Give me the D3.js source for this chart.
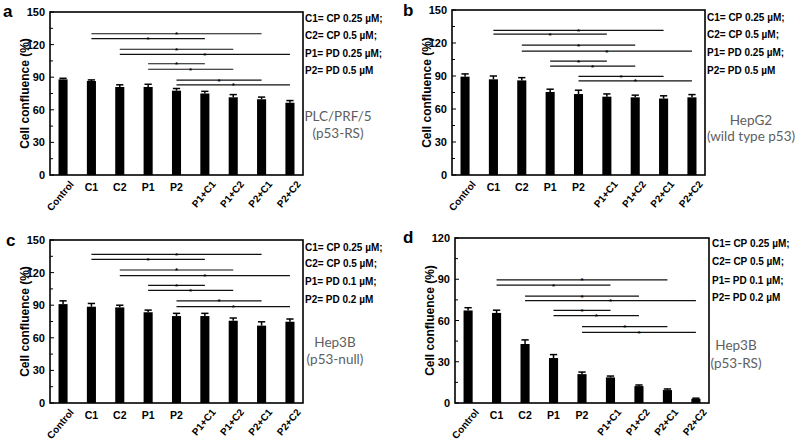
<!DOCTYPE html>
<html>
<head>
<meta charset="utf-8">
<script src="https://cdn.jsdelivr.net/npm/d3@7"></script>
<style>
  html, body { margin: 0; padding: 0; background: #fff; }
  svg { display: block; }
</style>
</head>
<body>
<svg id="chart" width="800" height="441"></svg>
<script>
// ---------- data ----------
const categories = ["Control", "C1", "C2", "P1", "P2", "P1+C1", "P1+C2", "P2+C1", "P2+C2"];
const rotatedLabels = ["Control", "P1+C1", "P1+C2", "P2+C1", "P2+C2"];

const valuesA = [88, 86.5, 81, 81, 77.6, 75, 71.5, 69.7, 66.5];
const errorsA = [1, 1, 2, 2.5, 2, 2, 2.5, 2, 2];
const valuesB = [89.4, 87, 86, 75.5, 73.6, 71.2, 70.6, 69.5, 70.6];
const errorsB = [2.5, 3, 2.5, 2.5, 3.5, 2.5, 2, 2.5, 2.5];
const valuesC = [91, 88.6, 88, 83.5, 80, 80, 75.7, 71.2, 74.8];
const errorsC = [3, 3, 2, 2, 2.5, 2.5, 2.5, 3.5, 2.5];
const valuesD = [67.3, 65.5, 42.9, 32.7, 21, 18.6, 12.3, 9.4, 3];
const errorsD = [2, 2, 3, 2.5, 1.5, 1, 0.8, 0.8, 0.5];

const comparisons = [["C1", "P2+C1"], ["C1", "P1+C1"], ["C2", "P1+C2"], ["C2", "P2+C2"],
                     ["P1", "P1+C1"], ["P1", "P1+C2"], ["P2", "P2+C1"], ["P2", "P2+C2"]];
const sigA = [130, 125.5, 115.7, 111, 102.4, 97.3, 87.4, 83];
const sigB = [131.5, 128, 118, 112.7, 103.6, 99, 89.7, 85.5];
const sigC = [136.8, 132.2, 122.4, 117.2, 108.3, 103.7, 93.9, 88.6];
const sigD = [89.5, 85.8, 77.8, 74.4, 67.4, 63.5, 55.5, 51.3];

const ticks150 = [0, 30, 60, 90, 120, 150];
const ticks120 = [0, 30, 60, 90, 120];

const legendAB = ["C1= CP 0.25 \u00b5M;", "C2= CP 0.5 \u00b5M;", "P1= PD 0.25 \u00b5M;", "P2= PD 0.5 \u00b5M"];
const legendCD = ["C1= CP 0.25 \u00b5M;", "C2= CP 0.5 \u00b5M;", "P1= PD 0.1 \u00b5M;", "P2= PD 0.2 \u00b5M"];

const cellA = ["PLC/PRF/5", "(p53-RS)"];
const cellB = ["HepG2", "(wild type p53)"];
const cellC = ["Hep3B", "(p53-null)"];
const cellD = ["Hep3B", "(p53-RS)"];

const yTitle = "Cell confluence (%)";

// ---------- drawing ----------
const svg = d3.select("#chart");
const FONT = "'Liberation Sans', Arial, sans-serif";

const panels = [
  { letter: "a", lx: 3, ly: 17, box: [50, 303, 12, 175], max: 150, ticks: ticks150,
    values: valuesA, errors: errorsA, sig: sigA, legend: legendAB, legX: 305, legY: [22, 39, 56.5, 74],
    cell: cellA, cellX: 338, cellY: [121, 138], titleX: 25 },
  { letter: "b", lx: 403, ly: 16, box: [452, 705, 10, 175], max: 150, ticks: ticks150,
    values: valuesB, errors: errorsB, sig: sigB, legend: legendAB, legX: 707, legY: [20.5, 38, 56, 73.5],
    cell: cellB, cellX: 751, cellY: [125, 141], titleX: 427 },
  { letter: "c", lx: 6, ly: 246, box: [50, 303, 240, 403], max: 150, ticks: ticks150,
    values: valuesC, errors: errorsC, sig: sigC, legend: legendCD, legX: 305, legY: [250.5, 267, 285, 303],
    cell: cellC, cellX: 335, cellY: [347, 364], titleX: 25 },
  { letter: "d", lx: 403, ly: 243, box: [455, 709, 238, 403], max: 120, ticks: ticks120,
    values: valuesD, errors: errorsD, sig: sigD, legend: legendCD, legX: 712, legY: [247, 265, 283.5, 301],
    cell: cellD, cellX: 736, cellY: [350, 368], titleX: 430 }
];

panels.forEach(p => {
  const [L, R, T, B] = p.box;
  const g = svg.append("g");
  const x = d3.scaleBand().domain(categories).range([L, R]).paddingInner(0.68).paddingOuter(0.3);
  const y = d3.scaleLinear().domain([0, p.max]).range([B, T]);
  const cx = c => x(c) + x.bandwidth() / 2;

  // bars
  g.selectAll("rect.bar").data(categories).join("rect")
    .attr("x", c => x(c)).attr("width", x.bandwidth())
    .attr("y", (c, i) => y(p.values[i]))
    .attr("height", (c, i) => B - y(p.values[i]))
    .attr("fill", "#000");

  // error bars (upper)
  const capW = x.bandwidth() * 0.8;
  categories.forEach((c, i) => {
    const top = y(p.values[i] + p.errors[i]);
    g.append("line").attr("x1", cx(c)).attr("x2", cx(c))
      .attr("y1", y(p.values[i])).attr("y2", top).attr("stroke", "#000").attr("stroke-width", 1.5);
    g.append("line").attr("x1", cx(c) - capW / 2).attr("x2", cx(c) + capW / 2)
      .attr("y1", top).attr("y2", top).attr("stroke", "#000").attr("stroke-width", 1.5);
  });

  // significance lines
  comparisons.forEach((pair, i) => {
    const x1 = cx(pair[0]), x2 = cx(pair[1]), yy = y(p.sig[i]);
    g.append("line").attr("x1", x1).attr("x2", x2).attr("y1", yy).attr("y2", yy)
      .attr("stroke", "#111").attr("stroke-width", 1.2);
    g.append("text").attr("x", (x1 + x2) / 2).attr("y", yy + 3.5)
      .attr("text-anchor", "middle").attr("font-family", FONT).attr("font-weight", "bold")
      .attr("font-size", 8).text("*");
  });

  // y axis
  const yAxis = d3.axisLeft(y).tickValues(p.ticks).tickSize(0).tickPadding(5);
  const ag = g.append("g").attr("transform", `translate(${L},0)`).call(yAxis);
  ag.select(".domain").remove();
  ag.selectAll("text").attr("font-family", FONT).attr("font-weight", "bold")
    .attr("font-size", 11).attr("fill", "#000");
  // inward ticks (major + minor)
  const minor = d3.range(15, p.max, 30);
  g.selectAll("line.maj").data(p.ticks).join("line")
    .attr("x1", L).attr("x2", L + 4).attr("y1", d => y(d)).attr("y2", d => y(d))
    .attr("stroke", "#000").attr("stroke-width", 1);
  g.selectAll("line.min").data(minor).join("line")
    .attr("x1", L).attr("x2", L + 3).attr("y1", d => y(d)).attr("y2", d => y(d))
    .attr("stroke", "#000").attr("stroke-width", 1);

  // frame
  g.append("rect").attr("x", L).attr("y", T).attr("width", R - L).attr("height", B - T)
    .attr("fill", "none").attr("stroke", "#000").attr("stroke-width", 1.6);

  // x labels
  categories.forEach(c => {
    if (rotatedLabels.includes(c)) {
      g.append("text").attr("transform", `translate(${cx(c) + 6},${B + 5}) rotate(-50)`)
        .attr("text-anchor", "end").attr("dy", "0.7em")
        .attr("font-family", FONT).attr("font-weight", "bold").attr("font-size", 10).text(c);
    } else {
      g.append("text").attr("x", cx(c)).attr("y", B + 15.5).attr("text-anchor", "middle")
        .attr("font-family", FONT).attr("font-weight", "bold").attr("font-size", 10.5).text(c);
    }
  });

  // y title
  g.append("text").attr("transform", `translate(${p.titleX},${(T + B) / 2}) rotate(-90)`)
    .attr("text-anchor", "middle").attr("dy", "0.35em")
    .attr("font-family", FONT).attr("font-weight", "bold").attr("font-size", 12).text(yTitle);

  // panel letter
  g.append("text").attr("x", p.lx).attr("y", p.ly).attr("font-family", FONT)
    .attr("font-weight", "bold").attr("font-size", 17).text(p.letter);

  // legend text
  p.legend.forEach((t, i) => {
    g.append("text").attr("x", p.legX).attr("y", p.legY[i]).attr("font-family", FONT)
      .attr("font-weight", "bold").attr("font-size", 10).text(t);
  });

  // cell line label
  p.cell.forEach((t, i) => {
    g.append("text").attr("x", p.cellX).attr("y", p.cellY[i]).attr("text-anchor", "middle")
      .attr("font-family", "Lato, 'Open Sans', sans-serif").attr("font-size", 13.5)
      .attr("fill", "#5e5e5e").text(t);
  });
});
</script>
</body>
</html>
